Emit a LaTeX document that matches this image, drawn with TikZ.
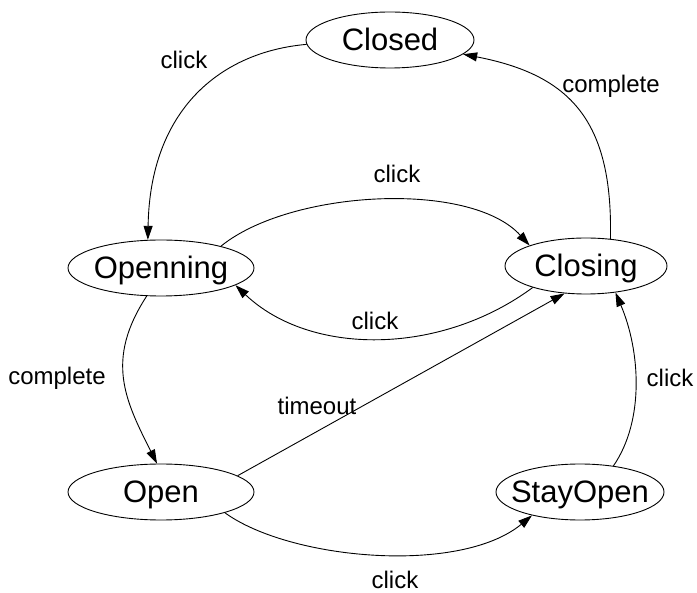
\documentclass[tikz,border=0pt]{standalone}
\usepackage{fontspec}
\setmainfont{Liberation Sans}
\usetikzlibrary{shapes.geometric,arrows.meta}
\begin{document}
\begin{tikzpicture}[x=1pt,y=-1pt,
  state/.style={draw, ellipse, line width=0.9pt, inner sep=0pt, minimum height=56pt,
    font=\fontsize{31}{31}\selectfont, text height=22pt, text depth=0pt},
  lbl/.style={font=\fontsize{24}{24}\selectfont, inner sep=0pt, text height=17pt, text depth=0pt},
  edge/.style={draw, line width=0.9pt, -{Triangle[length=14pt,width=9pt]}}]
\useasboundingbox (0,0) rectangle (697,593);

\node[state, minimum width=168pt] (closed) at (390,40) {\makebox[0pt]{Closed}};
\node[state, minimum width=186pt] (openning) at (161,268) {\makebox[0pt]{Openning}};
\node[state, minimum width=162pt] (closing) at (586,266) {\makebox[0pt]{Closing}};
\node[state, minimum width=186pt] (open) at (161,492) {\makebox[0pt]{Open}};
\node[state, minimum width=168pt] (stayopen) at (580,492) {\makebox[0pt]{StayOpen}};

\draw[edge] (closed.183) .. controls (220,52) and (150,110) .. (openning.115);
\draw[edge] (openning.20) .. controls (290,190) and (470,180) .. (closing.160);
\draw[edge] (closing.202) .. controls (440,356) and (310,356) .. (openning.-13);
\draw[edge] (openning.243) .. controls (105,360) and (125,400) .. (open.98);
\draw[edge] (open.12) -- (closing.232);
\draw[edge] (open.-18) .. controls (290,560) and (460,575) .. (stayopen.206);
\draw[edge] (stayopen.38) .. controls (645,420) and (640,350) .. (closing.-42);
\draw[edge] (closing.48) .. controls (613,120) and (570,75) .. (closed);

\node[lbl] (l1) at (184,60) {click};
\node[lbl] (l2) at (611,84) {complete};
\node[lbl] (l3) at (397,174) {click};
\node[lbl] (l4) at (375,321) {click};
\node[lbl] (l5) at (317,406) {timeout};
\node[lbl] (l6) at (57,376) {complete};
\node[lbl] (l7) at (670,378) {click};
\node[lbl] (l8) at (395,580) {click};
\end{tikzpicture}
\end{document}
